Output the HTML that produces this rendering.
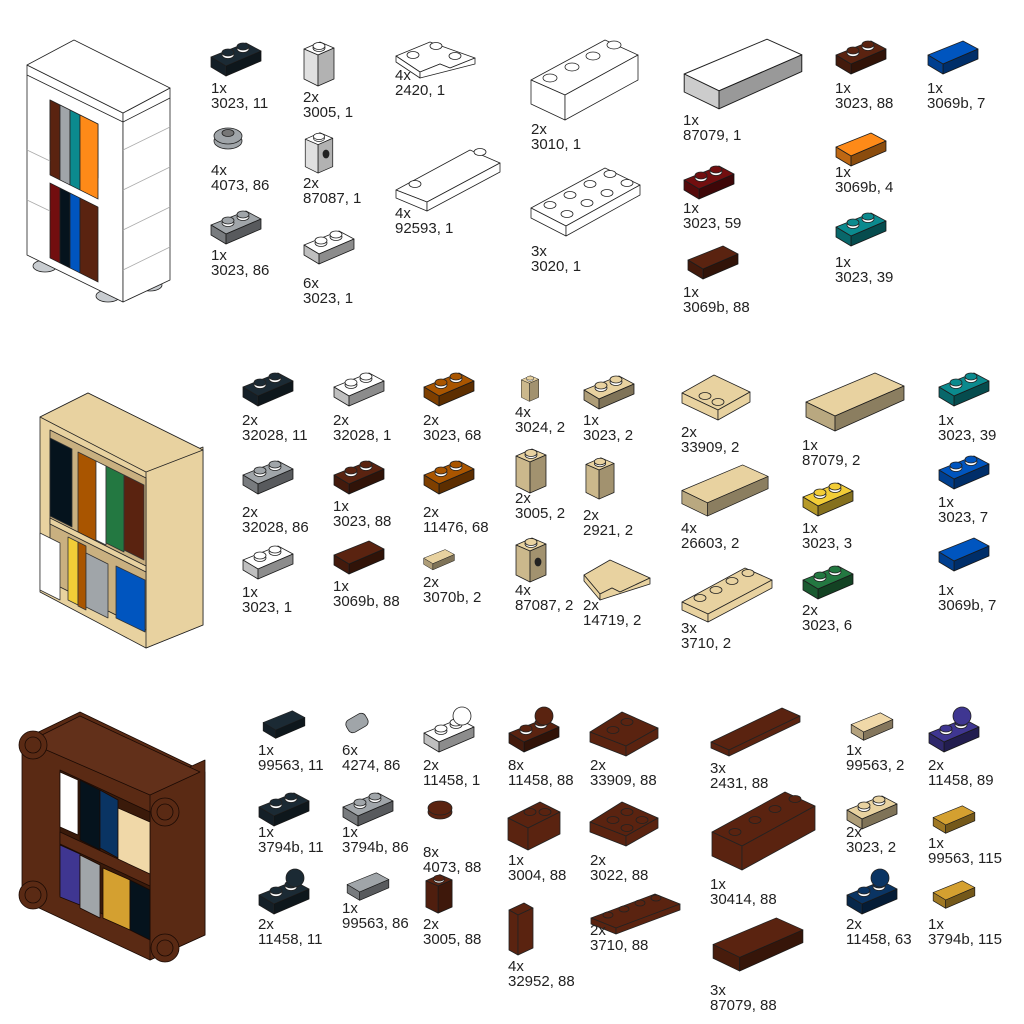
<!DOCTYPE html>
<html><head><meta charset="utf-8"><style>
body{margin:0;background:#fff;width:1024px;height:1024px;overflow:hidden;position:relative;font-family:"Liberation Sans",sans-serif}
svg{position:absolute;left:0;top:0}
.l{position:absolute;font-size:15px;line-height:15px;color:#222;white-space:pre}
</style></head><body>
<svg width="1024" height="1024" viewBox="0 0 1024 1024" stroke="#222" stroke-width="0.8" stroke-linejoin="round">
<defs>
<symbol id="pl" viewBox="0 0 52 36"><polygon points="1,15 36,1 51,9 16,24"/><polygon points="1,15 16,24 16,34 1,25"/><polygon points="1,15 16,24 16,34 1,25" fill="#000" opacity=".25" stroke="none"/><polygon points="16,24 51,9 51,19 16,34"/><polygon points="16,24 51,9 51,19 16,34" fill="#000" opacity=".45" stroke="none"/><ellipse cx="18" cy="13" rx="6" ry="3.5" fill="#fff"/><ellipse cx="18" cy="10.5" rx="6" ry="3.5"/><ellipse cx="33" cy="7" rx="6" ry="3.5" fill="#fff"/><ellipse cx="33" cy="4.5" rx="6" ry="3.5"/></symbol>
<symbol id="tl" viewBox="0 0 52 36"><polygon points="1,15 36,1 51,9 16,24"/><polygon points="1,15 16,24 16,34 1,25"/><polygon points="1,15 16,24 16,34 1,25" fill="#000" opacity=".25" stroke="none"/><polygon points="16,24 51,9 51,19 16,34"/><polygon points="16,24 51,9 51,19 16,34" fill="#000" opacity=".45" stroke="none"/></symbol>
<symbol id="br" viewBox="0 0 32 48"><polygon points="1,10 17,3 31,9 15,16"/><polygon points="1,10 15,16 15,47 1,40"/><polygon points="1,10 15,16 15,47 1,40" fill="#000" opacity=".12" stroke="none"/><polygon points="15,16 31,9 31,40 15,47"/><polygon points="15,16 31,9 31,40 15,47" fill="#000" opacity=".3" stroke="none"/><ellipse cx="16" cy="9" rx="6" ry="3.5" fill="#fff"/><ellipse cx="16" cy="7" rx="6" ry="3.5"/></symbol>
<symbol id="bt" viewBox="0 0 100 60"><polygon points="1,30 70,1 99,14 30,44"/><polygon points="1,30 30,44 30,59 1,45"/><polygon points="1,30 30,44 30,59 1,45" fill="#000" opacity=".2" stroke="none"/><polygon points="30,44 99,14 99,28 30,59"/><polygon points="30,44 99,14 99,28 30,59" fill="#000" opacity=".4" stroke="none"/></symbol>
</defs>

<!-- Shelf 1 white -->
<g fill="#fff">
<ellipse cx="45" cy="266" rx="12" ry="6" fill="#c8ccd0"/><ellipse cx="108" cy="296" rx="12" ry="6" fill="#c8ccd0"/><ellipse cx="150" cy="285" rx="12" ry="6" fill="#c8ccd0"/>
<polygon points="27,65 123,113 123,302 27,255"/>
<polygon points="123,113 170,88 170,280 123,302"/>
<polygon points="27,65 74,40 170,88 123,113"/>
<polyline points="27,75 123,122 170,98" fill="none"/>
<polygon points="50,100 98,124 98,178 50,154" fill="#555"/>
<rect x="50" y="100" width="10" height="75" fill="#5a2310" transform="skewY(26.6)" transform-origin="50 100"/>
<rect x="60" y="105" width="10" height="75" fill="#a0a5a9" transform="skewY(26.6)" transform-origin="60 105"/>
<rect x="70" y="110" width="10" height="75" fill="#0b8a8e" transform="skewY(26.6)" transform-origin="70 110"/>
<rect x="80" y="115" width="18" height="75" fill="#fe8a18" transform="skewY(26.6)" transform-origin="80 115"/>
<rect x="50" y="183" width="10" height="75" fill="#720e0f" transform="skewY(26.6)" transform-origin="50 183"/>
<rect x="60" y="188" width="10" height="75" fill="#05131d" transform="skewY(26.6)" transform-origin="60 188"/>
<rect x="70" y="193" width="10" height="75" fill="#0055bf" transform="skewY(26.6)" transform-origin="70 193"/>
<rect x="80" y="198" width="18" height="75" fill="#5a2310" transform="skewY(26.6)" transform-origin="80 198"/>
<g fill="none" stroke="#aaa"><line x1="123" y1="150" x2="170" y2="127"/><line x1="123" y1="190" x2="170" y2="167"/><line x1="123" y1="230" x2="170" y2="207"/><line x1="123" y1="270" x2="170" y2="247"/><line x1="27" y1="150" x2="50" y2="161"/><line x1="27" y1="200" x2="50" y2="211"/></g>
</g>

<!-- Shelf 2 tan -->
<g fill="#e8d2a0">
<polygon points="40,417 88,393 203,450 203,625 146,648 40,592"/>
<polygon points="146,470 203,447 203,625 146,648"/>
<polygon points="40,417 88,393 203,450 146,472"/>
<polygon points="50,430 146,478 146,630 50,582" fill="#c9b080"/>
<g stroke="#333">
<polygon points="50,438 72,449 72,527 50,516" fill="#05131d"/>
<polygon points="78,452 96,461 96,542 78,533" fill="#a95500"/>
<polygon points="96,461 106,466 106,545 96,540" fill="#fff"/>
<polygon points="106,466 124,475 124,552 106,543" fill="#237841"/>
<polygon points="124,475 144,485 144,560 124,550" fill="#5a2310"/>
<polygon points="40,533 60,543 60,600 40,590" fill="#fff"/>
<polygon points="68,537 78,542 78,605 68,600" fill="#f2cd37"/>
<polygon points="78,542 86,546 86,610 78,606" fill="#a95500"/>
<polygon points="86,553 108,564 108,618 86,607" fill="#a0a5a9"/>
<polygon points="116,566 145,580 145,632 116,618" fill="#0055bf"/>
</g>
<polygon points="50,518 146,566 146,572 50,524"/>
</g>

<!-- Shelf 3 brown -->
<g fill="#5a2a14" stroke="#1a0a04">
<polygon points="22,740 80,712 205,772 205,935 150,960 22,900"/>
<polygon points="150,785 205,760 205,935 150,960"/>
<polygon points="28,742 80,716 200,772 150,795" fill="#62301a"/>
<polygon points="60,770 150,812 150,935 60,895" fill="#3a1a0a"/>
<polygon points="60,772 78,780 78,835 60,827" fill="#fff"/>
<polygon points="80,780 100,790 100,850 80,840" fill="#05131d"/>
<polygon points="100,790 118,800 118,858 100,848" fill="#0a3463"/>
<polygon points="118,808 150,822 150,875 118,862" fill="#f0d8a8"/>
<polygon points="60,845 80,854 80,905 60,897" fill="#3f3691"/>
<polygon points="80,855 100,865 100,918 80,908" fill="#a0a5a9"/>
<polygon points="103,868 130,880 130,930 103,918" fill="#d4a030"/>
<polygon points="130,880 150,890 150,940 130,930" fill="#05131d"/>
<polygon points="60,832 150,874 150,886 60,844"/>
<circle cx="33" cy="745" r="14"/><circle cx="33" cy="745" r="8" fill="none"/>
<circle cx="33" cy="895" r="14"/><circle cx="33" cy="895" r="8" fill="none"/>
<circle cx="165" cy="812" r="14"/><circle cx="165" cy="812" r="8" fill="none"/>
<circle cx="165" cy="948" r="14"/><circle cx="165" cy="948" r="8" fill="none"/>
</g>

<!-- Row1 parts -->
<use href="#pl" x="210" y="42" width="52" height="36" fill="#1b2a34"/>
<use href="#br" x="303" y="38" width="32" height="50" fill="#fff"/>
<g fill="#fff"><polygon points="396,56 430,42 475,58 450,68 440,64 420,72"/><polygon points="396,56 420,72 420,78 396,62"/><polygon points="420,72 440,64 450,68 475,58 475,64 420,78"/><ellipse cx="413" cy="55" rx="6" ry="3.5"/><ellipse cx="436" cy="46" rx="6" ry="3.5"/><ellipse cx="455" cy="56" rx="6" ry="3.5"/></g>
<g fill="#fff"><polygon points="531,80 605,40 638,55 565,95"/><polygon points="531,80 565,95 565,120 531,104"/><polygon points="565,95 638,55 638,80 565,120"/><ellipse cx="550" cy="78" rx="7" ry="4"/><ellipse cx="572" cy="67" rx="7" ry="4"/><ellipse cx="593" cy="56" rx="7" ry="4"/><ellipse cx="614" cy="45" rx="7" ry="4"/></g>
<use href="#bt" x="682" y="38" width="122" height="72" fill="#fff"/>
<use href="#pl" x="835" y="40" width="52" height="36" fill="#5a2310"/>
<use href="#tl" x="927" y="40" width="52" height="36" fill="#0055bf"/>
<g fill="#a0a5a9"><ellipse cx="228" cy="141" rx="14" ry="8"/><ellipse cx="228" cy="136" rx="14" ry="8"/><ellipse cx="228" cy="133" rx="6" ry="3.5" fill="#777"/></g>
<use href="#br" x="303" y="130" width="32" height="44" fill="#fff"/><ellipse cx="326" cy="154" rx="3" ry="4" fill="#222"/>
<g fill="#fff"><polygon points="396,190 470,150 500,163 427,202"/><polygon points="396,190 427,202 427,211 396,198"/><polygon points="427,202 500,163 500,172 427,211"/><ellipse cx="415" cy="184" rx="6" ry="3.5"/><ellipse cx="480" cy="152" rx="6" ry="3.5"/></g>
<g fill="#fff"><polygon points="531,208 605,168 640,185 566,226"/><polygon points="531,208 566,226 566,236 531,218"/><polygon points="566,226 640,185 640,195 566,236"/><ellipse cx="550" cy="205" rx="6" ry="3.5"/><ellipse cx="570" cy="195" rx="6" ry="3.5"/><ellipse cx="590" cy="184" rx="6" ry="3.5"/><ellipse cx="610" cy="174" rx="6" ry="3.5"/><ellipse cx="567" cy="214" rx="6" ry="3.5"/><ellipse cx="587" cy="203" rx="6" ry="3.5"/><ellipse cx="607" cy="193" rx="6" ry="3.5"/><ellipse cx="627" cy="183" rx="6" ry="3.5"/></g>
<use href="#pl" x="683" y="165" width="52" height="36" fill="#720e0f"/>
<use href="#tl" x="835" y="132" width="52" height="36" fill="#fe8a18"/>
<use href="#pl" x="210" y="210" width="52" height="36" fill="#a0a5a9"/>
<use href="#pl" x="303" y="230" width="52" height="36" fill="#fff"/>
<use href="#tl" x="683" y="245" width="60" height="36" fill="#5a2310"/>
<use href="#pl" x="835" y="212" width="52" height="36" fill="#0b8a8e"/>

<!-- Row2 parts -->
<use href="#pl" x="242" y="372" width="52" height="36" fill="#1b2a34"/>
<use href="#pl" x="333" y="372" width="52" height="36" fill="#fff"/>
<use href="#pl" x="423" y="372" width="52" height="36" fill="#a95500"/>
<use href="#br" x="515" y="374" width="30" height="28" fill="#e8d2a0"/>
<use href="#pl" x="583" y="375" width="52" height="36" fill="#e8d2a0"/>
<g fill="#e8d2a0"><polygon points="682,393 714,375 750,392 718,410"/><polygon points="682,393 718,410 718,420 682,403"/><polygon points="718,410 750,392 750,402 718,420"/><ellipse cx="705" cy="396" rx="6" ry="3.5"/><ellipse cx="718" cy="402" rx="6" ry="3.5"/></g>
<use href="#bt" x="802" y="372" width="106" height="60" fill="#e8d2a0"/>
<use href="#pl" x="938" y="372" width="52" height="36" fill="#0b8a8e"/>
<use href="#pl" x="242" y="460" width="52" height="36" fill="#a0a5a9"/>
<use href="#pl" x="333" y="460" width="52" height="36" fill="#5a2310"/>
<use href="#pl" x="423" y="460" width="52" height="36" fill="#a95500"/>
<use href="#br" x="515" y="446" width="32" height="48" fill="#e8d2a0"/>
<use href="#br" x="585" y="455" width="30" height="45" fill="#e8d2a0"/>
<use href="#bt" x="681" y="463" width="88" height="55" fill="#e8d2a0"/>
<use href="#pl" x="802" y="482" width="52" height="36" fill="#f2cd37"/>
<use href="#pl" x="938" y="455" width="52" height="36" fill="#0055bf"/>
<use href="#pl" x="242" y="545" width="52" height="36" fill="#fff"/>
<use href="#tl" x="333" y="540" width="52" height="36" fill="#5a2310"/>
<use href="#tl" x="423" y="548" width="32" height="24" fill="#e8d2a0"/>
<use href="#br" x="515" y="535" width="32" height="48" fill="#e8d2a0"/><ellipse cx="538" cy="562" rx="3" ry="4" fill="#222"/>
<g fill="#e8d2a0"><polygon points="584,575 610,560 650,578 620,592 612,588 600,594"/><polygon points="584,575 600,594 600,600 584,581"/><polygon points="600,594 612,588 620,592 650,578 650,584 600,600"/></g>
<g fill="#e8d2a0"><polygon points="682,602 745,568 772,580 708,614"/><polygon points="682,602 708,614 708,622 682,610"/><polygon points="708,614 772,580 772,588 708,622"/><ellipse cx="700" cy="598" rx="6" ry="3.5"/><ellipse cx="716" cy="590" rx="6" ry="3.5"/><ellipse cx="732" cy="581" rx="6" ry="3.5"/><ellipse cx="748" cy="573" rx="6" ry="3.5"/></g>
<use href="#pl" x="802" y="565" width="52" height="36" fill="#237841"/>
<use href="#tl" x="938" y="537" width="52" height="36" fill="#0055bf"/>

<!-- Row3 parts -->
<use href="#tl" x="258" y="710" width="52" height="30" fill="#1b2a34"/>
<g fill="#a0a5a9"><rect x="346" y="716" width="22" height="14" rx="5" transform="rotate(-30 357 723)"/></g>
<use href="#pl" x="423" y="718" width="52" height="36" fill="#fff"/><circle cx="462" cy="716" r="9" fill="#fff"/>
<use href="#pl" x="508" y="718" width="52" height="36" fill="#5a2310"/><circle cx="544" cy="716" r="9" fill="#5a2310"/>
<g fill="#5a2310"><polygon points="590,732 622,712 658,728 626,746"/><polygon points="590,732 626,746 626,756 590,742"/><polygon points="626,746 658,728 658,738 626,756"/><ellipse cx="613" cy="730" rx="6" ry="3.5"/><ellipse cx="627" cy="722" rx="6" ry="3.5"/></g>
<g fill="#5a2310"><polygon points="711,742 782,708 800,716 729,750"/><polygon points="711,742 729,750 729,756 711,748"/><polygon points="729,750 800,716 800,722 729,756"/></g>
<use href="#tl" x="846" y="712" width="52" height="30" fill="#f0d8a8"/>
<use href="#pl" x="928" y="718" width="52" height="36" fill="#3f3691"/><circle cx="962" cy="716" r="9" fill="#3f3691"/>
<use href="#pl" x="258" y="792" width="52" height="36" fill="#1b2a34"/>
<use href="#pl" x="342" y="792" width="52" height="36" fill="#a0a5a9"/>
<g fill="#5a2310"><ellipse cx="440" cy="812" rx="12" ry="7"/><ellipse cx="440" cy="808" rx="12" ry="7"/></g>
<g fill="#5a2310"><polygon points="508,818 540,802 560,812 528,828"/><polygon points="508,818 528,828 528,850 508,840"/><polygon points="528,828 560,812 560,834 528,850"/><ellipse cx="530" cy="812" rx="6" ry="3.5"/><ellipse cx="545" cy="812" rx="6" ry="3.5"/></g>
<g fill="#5a2310"><polygon points="590,822 622,802 658,818 626,836"/><polygon points="590,822 626,836 626,846 590,832"/><polygon points="626,836 658,818 658,828 626,846"/><ellipse cx="613" cy="820" rx="6" ry="3.5"/><ellipse cx="627" cy="812" rx="6" ry="3.5"/><ellipse cx="627" cy="828" rx="6" ry="3.5"/><ellipse cx="642" cy="820" rx="6" ry="3.5"/></g>
<g fill="#5a2310"><polygon points="712,832 785,792 815,806 742,846"/><polygon points="712,832 742,846 742,870 712,856"/><polygon points="742,846 815,806 815,830 742,870"/><ellipse cx="735" cy="832" rx="6" ry="3.5"/><ellipse cx="755" cy="820" rx="6" ry="3.5"/><ellipse cx="775" cy="809" rx="6" ry="3.5"/><ellipse cx="795" cy="799" rx="6" ry="3.5"/></g>
<use href="#pl" x="846" y="795" width="52" height="36" fill="#e8d2a0"/>
<use href="#tl" x="928" y="805" width="52" height="30" fill="#d4a030"/>
<use href="#pl" x="258" y="880" width="52" height="36" fill="#1b2a34"/><circle cx="295" cy="878" r="9" fill="#1b2a34"/>
<use href="#tl" x="342" y="872" width="52" height="30" fill="#a0a5a9"/>
<use href="#br" x="423" y="872" width="32" height="42" fill="#5a2310"/>
<g fill="#5a2310"><polygon points="509,910 524,903 533,908 518,915"/><polygon points="509,910 518,915 518,955 509,950"/><polygon points="518,915 533,908 533,948 518,955"/></g>
<g fill="#5a2310"><polygon points="591,918 655,894 680,904 616,928"/><polygon points="591,918 616,928 616,934 591,924"/><polygon points="616,928 680,904 680,910 616,934"/><ellipse cx="608" cy="915" rx="5" ry="3"/><ellipse cx="624" cy="909" rx="5" ry="3"/><ellipse cx="640" cy="903" rx="5" ry="3"/><ellipse cx="656" cy="898" rx="5" ry="3"/></g>
<use href="#bt" x="710" y="917" width="96" height="55" fill="#5a2310"/>
<use href="#pl" x="846" y="880" width="52" height="36" fill="#0a3463"/><circle cx="880" cy="878" r="9" fill="#0a3463"/>
<use href="#tl" x="928" y="880" width="52" height="30" fill="#d4a030"/>
</svg>

<div class="l" style="left:211px;top:81px">1x
3023, 11</div>
<div class="l" style="left:303px;top:90px">2x
3005, 1</div>
<div class="l" style="left:395px;top:68px">4x
2420, 1</div>
<div class="l" style="left:531px;top:122px">2x
3010, 1</div>
<div class="l" style="left:683px;top:113px">1x
87079, 1</div>
<div class="l" style="left:835px;top:81px">1x
3023, 88</div>
<div class="l" style="left:927px;top:81px">1x
3069b, 7</div>
<div class="l" style="left:211px;top:163px">4x
4073, 86</div>
<div class="l" style="left:303px;top:176px">2x
87087, 1</div>
<div class="l" style="left:395px;top:206px">4x
92593, 1</div>
<div class="l" style="left:531px;top:244px">3x
3020, 1</div>
<div class="l" style="left:683px;top:201px">1x
3023, 59</div>
<div class="l" style="left:835px;top:165px">1x
3069b, 4</div>
<div class="l" style="left:211px;top:248px">1x
3023, 86</div>
<div class="l" style="left:303px;top:276px">6x
3023, 1</div>
<div class="l" style="left:683px;top:285px">1x
3069b, 88</div>
<div class="l" style="left:835px;top:255px">1x
3023, 39</div>

<div class="l" style="left:242px;top:413px">2x
32028, 11</div>
<div class="l" style="left:333px;top:413px">2x
32028, 1</div>
<div class="l" style="left:423px;top:413px">2x
3023, 68</div>
<div class="l" style="left:515px;top:405px">4x
3024, 2</div>
<div class="l" style="left:583px;top:413px">1x
3023, 2</div>
<div class="l" style="left:681px;top:425px">2x
33909, 2</div>
<div class="l" style="left:802px;top:438px">1x
87079, 2</div>
<div class="l" style="left:938px;top:413px">1x
3023, 39</div>
<div class="l" style="left:242px;top:505px">2x
32028, 86</div>
<div class="l" style="left:333px;top:499px">1x
3023, 88</div>
<div class="l" style="left:423px;top:505px">2x
11476, 68</div>
<div class="l" style="left:515px;top:491px">2x
3005, 2</div>
<div class="l" style="left:583px;top:508px">2x
2921, 2</div>
<div class="l" style="left:681px;top:521px">4x
26603, 2</div>
<div class="l" style="left:802px;top:521px">1x
3023, 3</div>
<div class="l" style="left:938px;top:495px">1x
3023, 7</div>
<div class="l" style="left:242px;top:585px">1x
3023, 1</div>
<div class="l" style="left:333px;top:579px">1x
3069b, 88</div>
<div class="l" style="left:423px;top:575px">2x
3070b, 2</div>
<div class="l" style="left:515px;top:583px">4x
87087, 2</div>
<div class="l" style="left:583px;top:598px">2x
14719, 2</div>
<div class="l" style="left:681px;top:621px">3x
3710, 2</div>
<div class="l" style="left:802px;top:603px">2x
3023, 6</div>
<div class="l" style="left:938px;top:583px">1x
3069b, 7</div>

<div class="l" style="left:258px;top:743px">1x
99563, 11</div>
<div class="l" style="left:342px;top:743px">6x
4274, 86</div>
<div class="l" style="left:423px;top:758px">2x
11458, 1</div>
<div class="l" style="left:508px;top:758px">8x
11458, 88</div>
<div class="l" style="left:590px;top:758px">2x
33909, 88</div>
<div class="l" style="left:710px;top:761px">3x
2431, 88</div>
<div class="l" style="left:846px;top:743px">1x
99563, 2</div>
<div class="l" style="left:928px;top:758px">2x
11458, 89</div>
<div class="l" style="left:258px;top:825px">1x
3794b, 11</div>
<div class="l" style="left:342px;top:825px">1x
3794b, 86</div>
<div class="l" style="left:423px;top:845px">8x
4073, 88</div>
<div class="l" style="left:508px;top:853px">1x
3004, 88</div>
<div class="l" style="left:590px;top:853px">2x
3022, 88</div>
<div class="l" style="left:710px;top:877px">1x
30414, 88</div>
<div class="l" style="left:846px;top:825px">2x
3023, 2</div>
<div class="l" style="left:928px;top:836px">1x
99563, 115</div>
<div class="l" style="left:258px;top:917px">2x
11458, 11</div>
<div class="l" style="left:342px;top:901px">1x
99563, 86</div>
<div class="l" style="left:423px;top:917px">2x
3005, 88</div>
<div class="l" style="left:508px;top:959px">4x
32952, 88</div>
<div class="l" style="left:590px;top:923px">2x
3710, 88</div>
<div class="l" style="left:710px;top:983px">3x
87079, 88</div>
<div class="l" style="left:846px;top:917px">2x
11458, 63</div>
<div class="l" style="left:928px;top:917px">1x
3794b, 115</div>
</body></html>
